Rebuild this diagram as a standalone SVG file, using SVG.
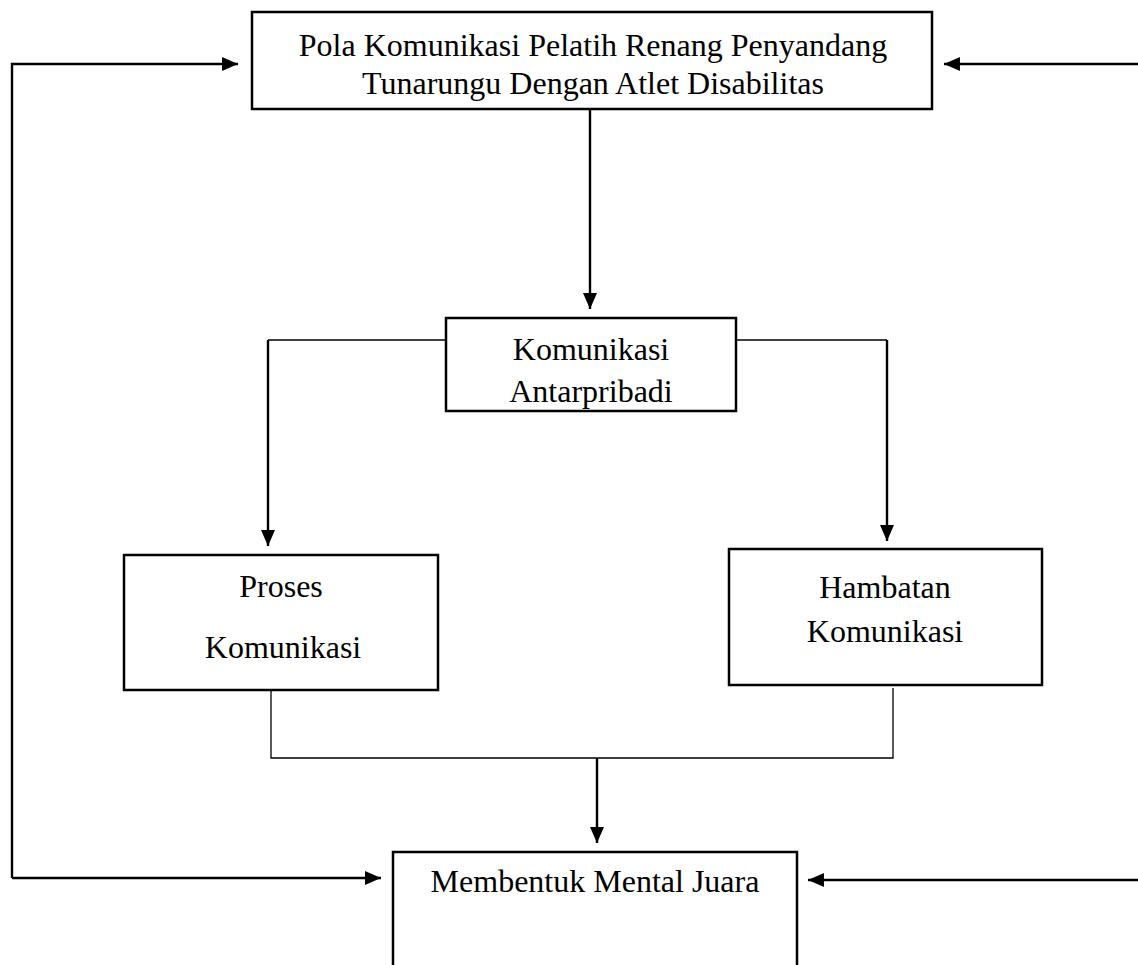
<svg xmlns="http://www.w3.org/2000/svg" width="1138" height="965" viewBox="0 0 1138 965">
<style>
.box{fill:#fff;stroke:#000;stroke-width:2.5}
.t{font-family:"Liberation Serif","Times New Roman",serif;font-size:32px;fill:#000;text-anchor:middle}
.c{fill:none;stroke:#000;stroke-width:2.4}
.thin{fill:none;stroke:#000;stroke-width:1.3}
</style>
<defs>
<marker id="ah" markerUnits="userSpaceOnUse" markerWidth="18" markerHeight="16" refX="16" refY="8" orient="auto">
<path d="M0,1 L16,8 L0,15 Z" fill="#000"/>
</marker>
</defs>
<rect width="1138" height="965" fill="#fff"/>
<g id="connectors">
<path class="c" d="M12,878 L12,64 L238,64" marker-end="url(#ah)"/>
<path class="c" d="M1138,64 L944,64" marker-end="url(#ah)"/>
<path class="c" d="M590,109 L590,309" marker-end="url(#ah)"/>
<path class="thin" d="M446,340 L268,340"/>
<path class="c" d="M268,340 L268,546" marker-end="url(#ah)"/>
<path class="thin" d="M736,340 L887,340"/>
<path class="c" d="M887,340 L887,541" marker-end="url(#ah)"/>
<path class="thin" d="M271,690 L271,758 L893,758 L893,688"/>
<path class="c" d="M597,758 L597,843" marker-end="url(#ah)"/>
<path class="c" d="M12,878 L381,878" marker-end="url(#ah)"/>
<path class="c" d="M1138,880 L808,880" marker-end="url(#ah)"/>
</g>
<g id="node-pola">
<rect class="box" x="252" y="12" width="680" height="97"/>
<text class="t" x="593" y="56">Pola Komunikasi Pelatih Renang Penyandang</text>
<text class="t" x="593" y="94">Tunarungu Dengan Atlet Disabilitas</text>
</g>
<g id="node-antarpribadi">
<rect class="box" x="446" y="318" width="290" height="93"/>
<text class="t" x="591" y="360">Komunikasi</text>
<text class="t" x="591" y="402">Antarpribadi</text>
</g>
<g id="node-proses">
<rect class="box" x="124" y="555" width="314" height="135"/>
<text class="t" x="281" y="597">Proses</text>
<text class="t" x="283" y="658">Komunikasi</text>
</g>
<g id="node-hambatan">
<rect class="box" x="729" y="549" width="313" height="136"/>
<text class="t" x="885" y="598">Hambatan</text>
<text class="t" x="885" y="642">Komunikasi</text>
</g>
<g id="node-mental">
<rect class="box" x="393" y="852" width="404" height="130"/>
<text class="t" x="595" y="892">Membentuk Mental Juara</text>
</g>
</svg>
